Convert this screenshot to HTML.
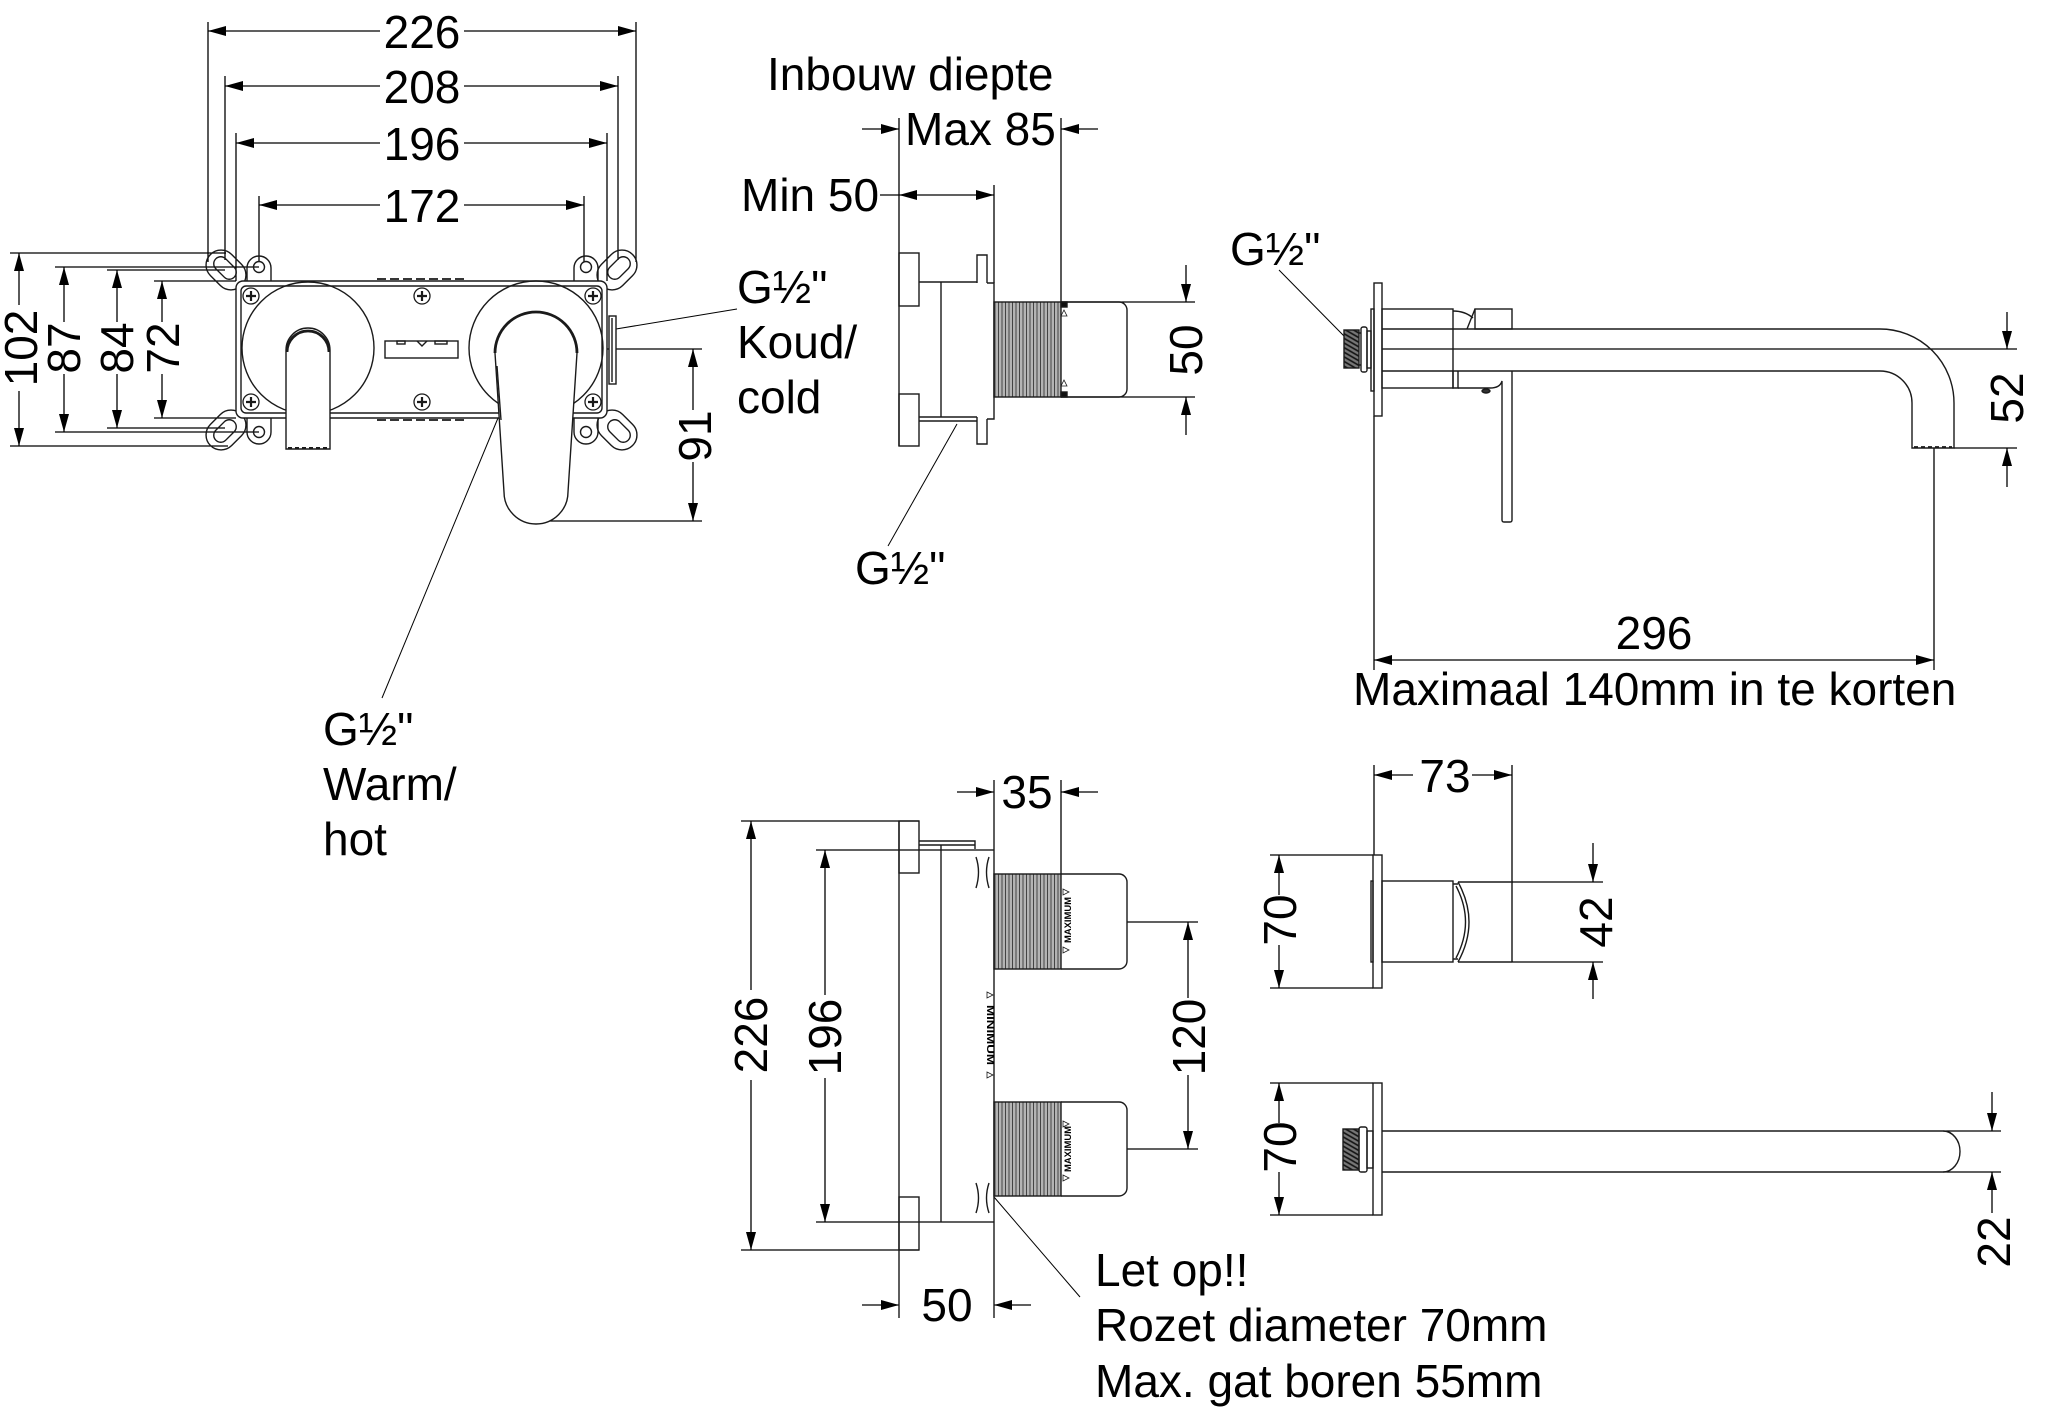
<!DOCTYPE html>
<html><head><meta charset="utf-8"><style>
html,body{margin:0;padding:0;background:#fff}
svg{display:block}
text{font-family:"Liberation Sans",Arial,sans-serif;font-size:46px;fill:#000;stroke:none}
</style></head><body>
<svg width="2047" height="1422" viewBox="0 0 2047 1422" xmlns="http://www.w3.org/2000/svg">
<defs>
<marker id="a" viewBox="0 0 18 10" refX="18" refY="5" markerWidth="18" markerHeight="10" markerUnits="userSpaceOnUse" orient="auto"><path d="M0,0 L18,5 L0,10 z" fill="#000" stroke="none"/></marker>
<pattern id="thr" width="3.5" height="20" patternUnits="userSpaceOnUse"><rect width="3.5" height="20" fill="#b4b4b4"/><line x1="1" y1="0" x2="1" y2="20" stroke="#444" stroke-width="1"/></pattern>
<pattern id="nip" width="4" height="4" patternUnits="userSpaceOnUse" patternTransform="rotate(30)"><rect width="4" height="4" fill="#777"/><line x1="0" y1="1" x2="4" y2="1" stroke="#111" stroke-width="1.6"/></pattern>
</defs>
<rect width="2047" height="1422" fill="#fff"/>

<!-- ================= FRONT VIEW (top-left) ================= -->
<g stroke="#000" stroke-width="1.3" fill="none">
<line x1="208" y1="22" x2="208" y2="262"/>
<line x1="636" y1="22" x2="636" y2="262"/>
<line x1="225" y1="76" x2="225" y2="260"/>
<line x1="618" y1="76" x2="618" y2="260"/>
<line x1="236" y1="133" x2="236" y2="281"/>
<line x1="607" y1="133" x2="607" y2="281"/>
<line x1="259" y1="196" x2="259" y2="262"/>
<line x1="584" y1="196" x2="584" y2="262"/>
<line x1="380" y1="31" x2="208" y2="31" marker-end="url(#a)"/>
<line x1="464" y1="31" x2="636" y2="31" marker-end="url(#a)"/>
<line x1="380" y1="86" x2="225" y2="86" marker-end="url(#a)"/>
<line x1="464" y1="86" x2="618" y2="86" marker-end="url(#a)"/>
<line x1="380" y1="143" x2="236" y2="143" marker-end="url(#a)"/>
<line x1="464" y1="143" x2="607" y2="143" marker-end="url(#a)"/>
<line x1="380" y1="205" x2="259" y2="205" marker-end="url(#a)"/>
<line x1="464" y1="205" x2="584" y2="205" marker-end="url(#a)"/>

<line x1="10" y1="253" x2="226" y2="253"/>
<line x1="10" y1="446" x2="228" y2="446"/>
<line x1="19" y1="305" x2="19" y2="253" marker-end="url(#a)"/>
<line x1="19" y1="391" x2="19" y2="446" marker-end="url(#a)"/>
<line x1="55" y1="267" x2="259" y2="267"/>
<line x1="55" y1="432" x2="259" y2="432"/>
<line x1="64" y1="322" x2="64" y2="267" marker-end="url(#a)"/>
<line x1="64" y1="374" x2="64" y2="432" marker-end="url(#a)"/>
<line x1="107" y1="270" x2="225" y2="270"/>
<line x1="107" y1="428" x2="225" y2="428"/>
<line x1="117" y1="322" x2="117" y2="270" marker-end="url(#a)"/>
<line x1="117" y1="374" x2="117" y2="428" marker-end="url(#a)"/>
<line x1="154" y1="281" x2="236" y2="281"/>
<line x1="154" y1="418" x2="236" y2="418"/>
<line x1="162" y1="322" x2="162" y2="281" marker-end="url(#a)"/>
<line x1="162" y1="374" x2="162" y2="418" marker-end="url(#a)"/>

<line x1="537" y1="349" x2="702" y2="349"/>
<line x1="540" y1="521" x2="702" y2="521"/>
<line x1="693" y1="410" x2="693" y2="349" marker-end="url(#a)"/>
<line x1="693" y1="462" x2="693" y2="521" marker-end="url(#a)"/>

<line x1="616" y1="329" x2="737" y2="309" stroke-width="1"/>
<line x1="498" y1="418" x2="382" y2="698" stroke-width="1"/>
</g>
<text x="422" y="48" text-anchor="middle">226</text>
<text x="422" y="103" text-anchor="middle">208</text>
<text x="422" y="160" text-anchor="middle">196</text>
<text x="422" y="222" text-anchor="middle">172</text>
<text transform="translate(37,348) rotate(-90)" text-anchor="middle">102</text>
<text transform="translate(80,348) rotate(-90)" text-anchor="middle">87</text>
<text transform="translate(133,348) rotate(-90)" text-anchor="middle">84</text>
<text transform="translate(179,348) rotate(-90)" text-anchor="middle">72</text>
<text transform="translate(711,436) rotate(-90)" text-anchor="middle">91</text>
<text x="737" y="303">G½"</text>
<text x="737" y="358">Koud/</text>
<text x="737" y="413">cold</text>
<text x="323" y="745">G½"</text>
<text x="323" y="800">Warm/</text>
<text x="323" y="855">hot</text>

<g stroke="#1a1a1a" stroke-width="1.4" fill="none">
<!-- ears -->
<rect x="-22" y="-15" width="44" height="30" rx="15" transform="translate(226,270) rotate(45)"/>
<rect x="-13" y="-7" width="26" height="14" rx="7" transform="translate(225,268) rotate(45)"/>
<rect x="-22" y="-15" width="44" height="30" rx="15" transform="translate(617,270) rotate(-45)"/>
<rect x="-13" y="-7" width="26" height="14" rx="7" transform="translate(619,268) rotate(-45)"/>
<rect x="-22" y="-15" width="44" height="30" rx="15" transform="translate(226,430) rotate(-45)"/>
<rect x="-13" y="-7" width="26" height="14" rx="7" transform="translate(225,431) rotate(-45)"/>
<rect x="-22" y="-15" width="44" height="30" rx="15" transform="translate(617,430) rotate(45)"/>
<rect x="-13" y="-7" width="26" height="14" rx="7" transform="translate(619,431) rotate(45)"/>
<path d="M247,283 V268 A12,12 0 0 1 271,268 V283"/>
<path d="M574,283 V268 A12,12 0 0 1 598,268 V283"/>
<path d="M247,416 V432 A12,12 0 0 0 271,432 V416"/>
<path d="M574,416 V432 A12,12 0 0 0 598,432 V416"/>
<circle cx="259" cy="267" r="5.5"/>
<circle cx="586" cy="267" r="5.5"/>
<circle cx="259" cy="432" r="5.5"/>
<circle cx="586" cy="432" r="5.5"/>
<!-- box -->
<rect x="236" y="281" width="371" height="137" rx="7" fill="#fff"/>
<rect x="241" y="286" width="361" height="127" rx="5"/>
<line x1="377" y1="279" x2="467" y2="279" stroke-dasharray="9 4" stroke-width="1.8"/>
<line x1="377" y1="420" x2="467" y2="420" stroke-dasharray="9 4" stroke-width="1.8"/>
<!-- side connector -->
<rect x="609" y="316" width="7" height="68" fill="#fff"/>
<line x1="612" y1="318" x2="612" y2="382"/>
<!-- circles -->
<circle cx="308" cy="348" r="66"/>
<circle cx="536" cy="348" r="67"/>
<!-- screws -->
<g stroke-width="1.3">
<circle cx="251" cy="296" r="8"/><path d="M246,296 H256 M251,291 V301" stroke-width="2.2"/>
<circle cx="422" cy="296" r="8"/><path d="M417,296 H427 M422,291 V301" stroke-width="2.2"/>
<circle cx="593" cy="296" r="8"/><path d="M588,296 H598 M593,291 V301" stroke-width="2.2"/>
<circle cx="251" cy="402" r="8"/><path d="M246,402 H256 M251,397 V407" stroke-width="2.2"/>
<circle cx="422" cy="402" r="8"/><path d="M417,402 H427 M422,397 V407" stroke-width="2.2"/>
<circle cx="593" cy="402" r="8"/><path d="M588,402 H598 M593,397 V407" stroke-width="2.2"/>
</g>
<!-- slot -->
<rect x="385" y="341" width="73" height="17"/>
<rect x="397" y="341" width="8" height="3"/>
<rect x="435" y="341" width="12" height="3"/>
<path d="M417,341 L422,346 L427,341"/>
<!-- left spout -->
<path d="M286,449 V350 A22,22 0 0 1 330,350 V449 Z" fill="#fff"/>
<path d="M287,352 A21,21 0 0 1 329,352" stroke-width="2.8"/>
<line x1="288" y1="448" x2="328" y2="448" stroke-dasharray="4 3" stroke-width="2"/>
<!-- right handle -->
<path d="M495,353 A41,41 0 0 1 577,353 L568,492 A32,32 0 0 1 504,492 Z" fill="#fff"/>
<path d="M495,353 A41,41 0 0 1 577,353" stroke-width="2.8"/>
<line x1="497" y1="366" x2="501" y2="420"/>
</g>

<!-- ================= SIDE VIEW (top middle) ================= -->
<g stroke="#000" stroke-width="1.3" fill="none">
<line x1="899" y1="118" x2="899" y2="253"/>
<line x1="1061" y1="118" x2="1061" y2="302"/>
<line x1="862" y1="129" x2="899" y2="129" marker-end="url(#a)"/>
<line x1="1098" y1="129" x2="1061" y2="129" marker-end="url(#a)"/>
<line x1="994" y1="185" x2="994" y2="283"/>
<line x1="880" y1="195" x2="899" y2="195"/>
<line x1="946" y1="195" x2="899" y2="195" marker-end="url(#a)"/>
<line x1="946" y1="195" x2="994" y2="195" marker-end="url(#a)"/>
<line x1="1061" y1="302" x2="1195" y2="302"/>
<line x1="1061" y1="397" x2="1195" y2="397"/>
<line x1="1186" y1="265" x2="1186" y2="302" marker-end="url(#a)"/>
<line x1="1186" y1="435" x2="1186" y2="397" marker-end="url(#a)"/>
<line x1="957" y1="424" x2="888" y2="546" stroke-width="1"/>
</g>
<text x="767" y="90">Inbouw diepte</text>
<text x="905" y="145">Max 85</text>
<text x="741" y="211">Min 50</text>
<text transform="translate(1202,350) rotate(-90)" text-anchor="middle">50</text>
<text x="855" y="584">G½"</text>
<g stroke="#1a1a1a" stroke-width="1.4" fill="none">
<line x1="899" y1="253" x2="899" y2="446"/>
<rect x="899" y="253" width="20" height="53"/>
<rect x="899" y="394" width="20" height="52"/>
<path d="M919,282 H977 M987,283 H994 V419 H987"/>
<path d="M977,283 V255 H987 V283"/>
<line x1="941" y1="282" x2="941" y2="417"/>
<path d="M919,417 H977 M919,421 H977"/>
<path d="M977,417 V444 H987 V419"/>
<rect x="994" y="302" width="67" height="95" fill="url(#thr)"/>
<path d="M1061,302 H1119 A8,8 0 0 1 1127,310 V389 A8,8 0 0 1 1119,397 H1061"/>
<rect x="1061" y="302" width="6" height="5" fill="#111"/>
<rect x="1061" y="392" width="6" height="5" fill="#111"/>
<path d="M1064,310 l3,6 h-6 z M1064,380 l3,6 h-6 z" stroke-width="0.8"/>
</g>

<!-- ================= TOP RIGHT VIEW ================= -->
<text x="1230" y="265">G½"</text>
<g stroke="#000" stroke-width="1.3" fill="none">
<line x1="1279" y1="270" x2="1344" y2="336" stroke-width="1"/>
<line x1="1374" y1="416" x2="1374" y2="670"/>
<line x1="1934" y1="448" x2="1934" y2="670"/>
<line x1="1654" y1="660" x2="1374" y2="660" marker-end="url(#a)"/>
<line x1="1654" y1="660" x2="1934" y2="660" marker-end="url(#a)"/>
<line x1="1382" y1="349" x2="2017" y2="349"/>
<line x1="1954" y1="448" x2="2017" y2="448"/>
<line x1="2007" y1="312" x2="2007" y2="349" marker-end="url(#a)"/>
<line x1="2007" y1="487" x2="2007" y2="448" marker-end="url(#a)"/>
</g>
<text x="1654" y="649" text-anchor="middle">296</text>
<text x="1353" y="705">Maximaal 140mm in te korten</text>
<text transform="translate(2023,398) rotate(-90)" text-anchor="middle">52</text>
<g stroke="#1a1a1a" stroke-width="1.4" fill="none">
<rect x="1344" y="330" width="15" height="38" fill="url(#nip)"/>
<rect x="1361" y="327" width="6" height="45" rx="2"/>
<path d="M1359,333 H1361 M1359,365 H1361"/>
<rect x="1367" y="331" width="4" height="37"/>
<rect x="1371" y="309" width="3" height="82"/>
<rect x="1374" y="283" width="8" height="133"/>
<rect x="1382" y="309" width="71" height="79"/>
<path d="M1382,329 H1880 A74,74 0 0 1 1954,403 V448 H1912 V403 A32,32 0 0 0 1880,371 H1382"/>
<line x1="1914" y1="447" x2="1952" y2="447" stroke-dasharray="4 3" stroke-width="1.8"/>
<path d="M1453,311 Q1465,311 1473,318"/>
<line x1="1467" y1="329" x2="1475" y2="309"/>
<rect x="1475" y="309" width="37" height="20"/>
<path d="M1453,371 V388 H1458 V371"/>
<path d="M1458,388 H1490 Q1500,388 1502,381 V520 Q1502,522 1504,522 H1510 Q1512,522 1512,520 V371"/>
<ellipse cx="1486" cy="391" rx="4" ry="2" fill="#333"/>
</g>

<!-- ================= BOTTOM MIDDLE VIEW ================= -->
<g stroke="#000" stroke-width="1.3" fill="none">
<line x1="1061" y1="780" x2="1061" y2="874"/>
<line x1="957" y1="792" x2="994" y2="792" marker-end="url(#a)"/>
<line x1="1098" y1="792" x2="1061" y2="792" marker-end="url(#a)"/>
<line x1="741" y1="821" x2="919" y2="821"/>
<line x1="741" y1="1250" x2="919" y2="1250"/>
<line x1="816" y1="850" x2="994" y2="850"/>
<line x1="816" y1="1222" x2="994" y2="1222"/>
<line x1="751" y1="990" x2="751" y2="821" marker-end="url(#a)"/>
<line x1="751" y1="1080" x2="751" y2="1250" marker-end="url(#a)"/>
<line x1="825" y1="995" x2="825" y2="850" marker-end="url(#a)"/>
<line x1="825" y1="1078" x2="825" y2="1222" marker-end="url(#a)"/>
<line x1="1127" y1="922" x2="1198" y2="922"/>
<line x1="1127" y1="1149" x2="1198" y2="1149"/>
<line x1="1188" y1="998" x2="1188" y2="922" marker-end="url(#a)"/>
<line x1="1188" y1="1075" x2="1188" y2="1149" marker-end="url(#a)"/>
<line x1="862" y1="1305" x2="899" y2="1305" marker-end="url(#a)"/>
<line x1="1031" y1="1305" x2="994" y2="1305" marker-end="url(#a)"/>
<line x1="994" y1="1197" x2="1080" y2="1297" stroke-width="1"/>
</g>
<text x="1027" y="808" text-anchor="middle">35</text>
<text transform="translate(767,1035) rotate(-90)" text-anchor="middle">226</text>
<text transform="translate(841,1037) rotate(-90)" text-anchor="middle">196</text>
<text transform="translate(1205,1037) rotate(-90)" text-anchor="middle">120</text>
<text x="947" y="1321" text-anchor="middle">50</text>
<text x="1095" y="1286">Let op!!</text>
<text x="1095" y="1341">Rozet diameter 70mm</text>
<text x="1095" y="1397">Max. gat boren 55mm</text>
<g stroke="#1a1a1a" stroke-width="1.4" fill="none">
<line x1="899" y1="821" x2="899" y2="1318"/>
<line x1="994" y1="780" x2="994" y2="1318"/>
<rect x="899" y="821" width="20" height="52"/>
<rect x="899" y="1197" width="20" height="53"/>
<path d="M919,841 H975 V849 M919,845 H975"/>
<line x1="941" y1="845" x2="941" y2="1222"/>
<path d="M976,857 Q981,872 976,888 M989,857 Q984,872 989,888"/>
<path d="M976,1183 Q981,1198 976,1213 M989,1183 Q984,1198 989,1213"/>
<rect x="994" y="874" width="67" height="95" fill="url(#thr)"/>
<rect x="994" y="1102" width="67" height="94" fill="url(#thr)"/>
<path d="M1061,874 H1119 A8,8 0 0 1 1127,882 V961 A8,8 0 0 1 1119,969 H1061"/>
<path d="M1061,1102 H1119 A8,8 0 0 1 1127,1110 V1188 A8,8 0 0 1 1119,1196 H1061"/>
<path d="M987,992 l6,3 l-6,3 z M987,1072 l6,3 l-6,3 z M1063,889 l6,3 l-6,3 z M1063,947 l6,3 l-6,3 z M1063,1121 l6,3 l-6,3 z M1063,1175 l6,3 l-6,3 z" stroke-width="0.8"/>
</g>
<text transform="translate(987,1035) rotate(90)" text-anchor="middle" font-size="10" textLength="60" lengthAdjust="spacingAndGlyphs" style="font-size:10px;font-weight:bold">MINIMUM</text>
<text transform="translate(1071,920) rotate(-90)" text-anchor="middle" textLength="46" lengthAdjust="spacingAndGlyphs" style="font-size:9px;font-weight:bold">MAXIMUM</text>
<text transform="translate(1071,1149) rotate(-90)" text-anchor="middle" textLength="46" lengthAdjust="spacingAndGlyphs" style="font-size:9px;font-weight:bold">MAXIMUM</text>

<!-- ================= BOTTOM RIGHT VIEWS ================= -->
<g stroke="#000" stroke-width="1.3" fill="none">
<line x1="1374" y1="765" x2="1374" y2="855"/>
<line x1="1512" y1="765" x2="1512" y2="962"/>
<line x1="1413" y1="775" x2="1374" y2="775" marker-end="url(#a)"/>
<line x1="1472" y1="775" x2="1512" y2="775" marker-end="url(#a)"/>
<line x1="1270" y1="855" x2="1373" y2="855"/>
<line x1="1270" y1="988" x2="1373" y2="988"/>
<line x1="1279" y1="895" x2="1279" y2="855" marker-end="url(#a)"/>
<line x1="1279" y1="945" x2="1279" y2="988" marker-end="url(#a)"/>
<line x1="1512" y1="882" x2="1603" y2="882"/>
<line x1="1512" y1="962" x2="1603" y2="962"/>
<line x1="1593" y1="843" x2="1593" y2="882" marker-end="url(#a)"/>
<line x1="1593" y1="999" x2="1593" y2="962" marker-end="url(#a)"/>
<line x1="1270" y1="1083" x2="1373" y2="1083"/>
<line x1="1270" y1="1215" x2="1373" y2="1215"/>
<line x1="1279" y1="1123" x2="1279" y2="1083" marker-end="url(#a)"/>
<line x1="1279" y1="1172" x2="1279" y2="1215" marker-end="url(#a)"/>
<line x1="1943" y1="1131" x2="2001" y2="1131"/>
<line x1="1943" y1="1172" x2="2001" y2="1172"/>
<line x1="1992" y1="1092" x2="1992" y2="1131" marker-end="url(#a)"/>
<line x1="1992" y1="1213" x2="1992" y2="1172" marker-end="url(#a)"/>
</g>
<text x="1445" y="792" text-anchor="middle">73</text>
<text transform="translate(1296,920) rotate(-90)" text-anchor="middle">70</text>
<text transform="translate(1612,922) rotate(-90)" text-anchor="middle">42</text>
<text transform="translate(1296,1147) rotate(-90)" text-anchor="middle">70</text>
<text transform="translate(2010,1242) rotate(-90)" text-anchor="middle">22</text>
<g stroke="#1a1a1a" stroke-width="1.4" fill="none">
<rect x="1373" y="855" width="9" height="133"/>
<rect x="1371" y="881" width="2" height="81"/>
<rect x="1382" y="881" width="71" height="81"/>
<path d="M1453,884 H1458 M1453,959 H1458"/>
<path d="M1458,882 Q1480,922 1458,962"/>
<path d="M1456,886 Q1475,922 1456,958"/>
<path d="M1458,882 H1512 M1458,962 H1512"/>
<rect x="1373" y="1083" width="9" height="132"/>
<rect x="1343" y="1129" width="16" height="41" fill="url(#nip)"/>
<rect x="1359" y="1127" width="8" height="45" rx="2"/>
<rect x="1367" y="1131" width="6" height="37"/>
<path d="M1382,1131 H1943 M1382,1172 H1943"/>
<path d="M1943,1131 A17,20.5 0 0 1 1943,1172"/>
</g>
</svg>
</body></html>
